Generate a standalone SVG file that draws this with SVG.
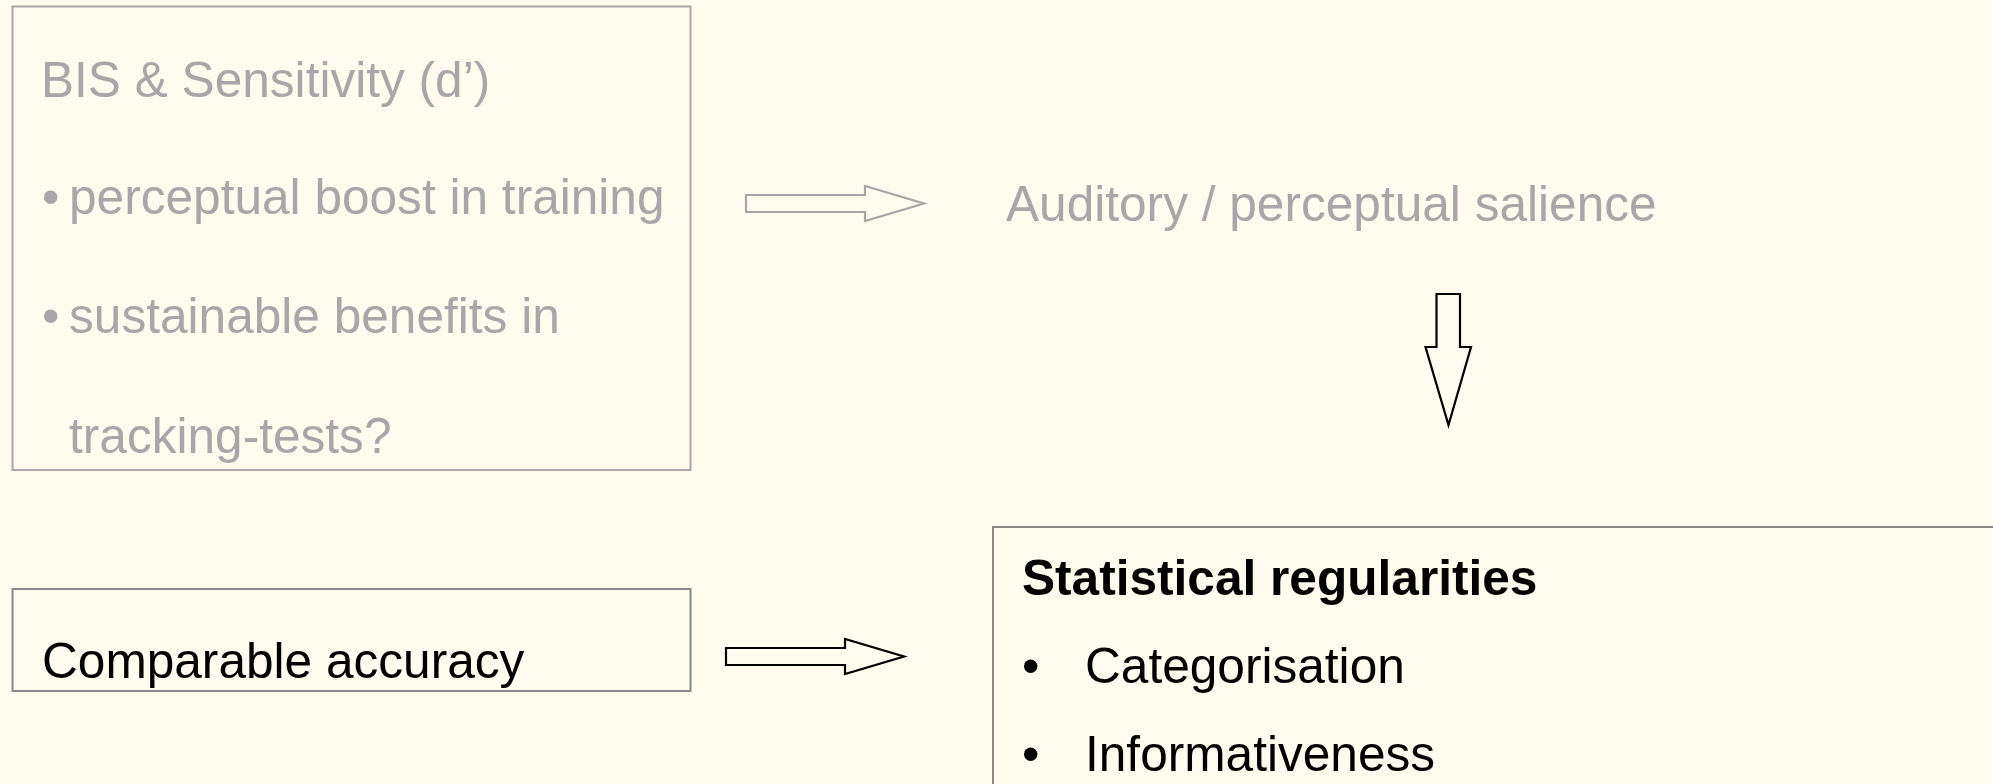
<svg xmlns="http://www.w3.org/2000/svg" width="1993" height="784" viewBox="0 0 1993 784">
<style>
text{font-family:"Liberation Sans",Arial,sans-serif;font-size:49.6px}
.g{fill:#A8A6A8}
.k{fill:#000}
.b{font-weight:bold}
.box1{fill:none;stroke:#A8A6A8;stroke-width:2}
.box{fill:none;stroke:#888;stroke-width:2}
.ag{fill:none;stroke:#A6A6A6;stroke-width:2.2;stroke-linejoin:miter}
.ak{fill:none;stroke:#000;stroke-width:2.2;stroke-linejoin:miter}
</style>
<rect width="1993" height="784" fill="#FFFBEF"/>
<g id="node-bis">
<rect class="box1" x="12.5" y="6.5" width="678" height="463.5"/>
<text class="g" x="41" y="97">BIS &amp; Sensitivity (d’)</text>
<text class="g" x="42" y="214">•</text>
<text class="g" x="69" y="214">perceptual boost in training</text>
<text class="g" x="42" y="333">•</text>
<text class="g" x="69" y="333">sustainable benefits in</text>
<text class="g" x="69" y="453">tracking-tests?</text>
</g>
<g id="node-salience">
<text class="g" x="1006" y="221">Auditory / perceptual salience</text>
</g>
<g id="node-accuracy">
<rect class="box" x="12.5" y="589" width="678" height="102"/>
<text class="k" x="42" y="678">Comparable accuracy</text>
</g>
<g id="node-stat">
<rect class="box" x="993" y="527" width="1010" height="270"/>
<text class="k b" x="1022" y="595">Statistical regularities</text>
<text class="k" x="1022" y="683">•</text>
<text class="k" x="1085" y="683">Categorisation</text>
<text class="k" x="1022" y="771">•</text>
<text class="k" x="1085" y="771">Informativeness</text>
</g>
<g id="connectors">
<path class="ag" d="M746,195 H865 V186 L924,203.5 L865,221 V212 H746 Z"/>
<path class="ak" d="M1436.5,294 H1460 V347 H1471 L1448.5,425 L1425.5,347 H1436.5 Z"/>
<path class="ak" d="M726,648 H845 V639 L904,656.5 L845,674 V665 H726 Z"/>
</g>
</svg>
